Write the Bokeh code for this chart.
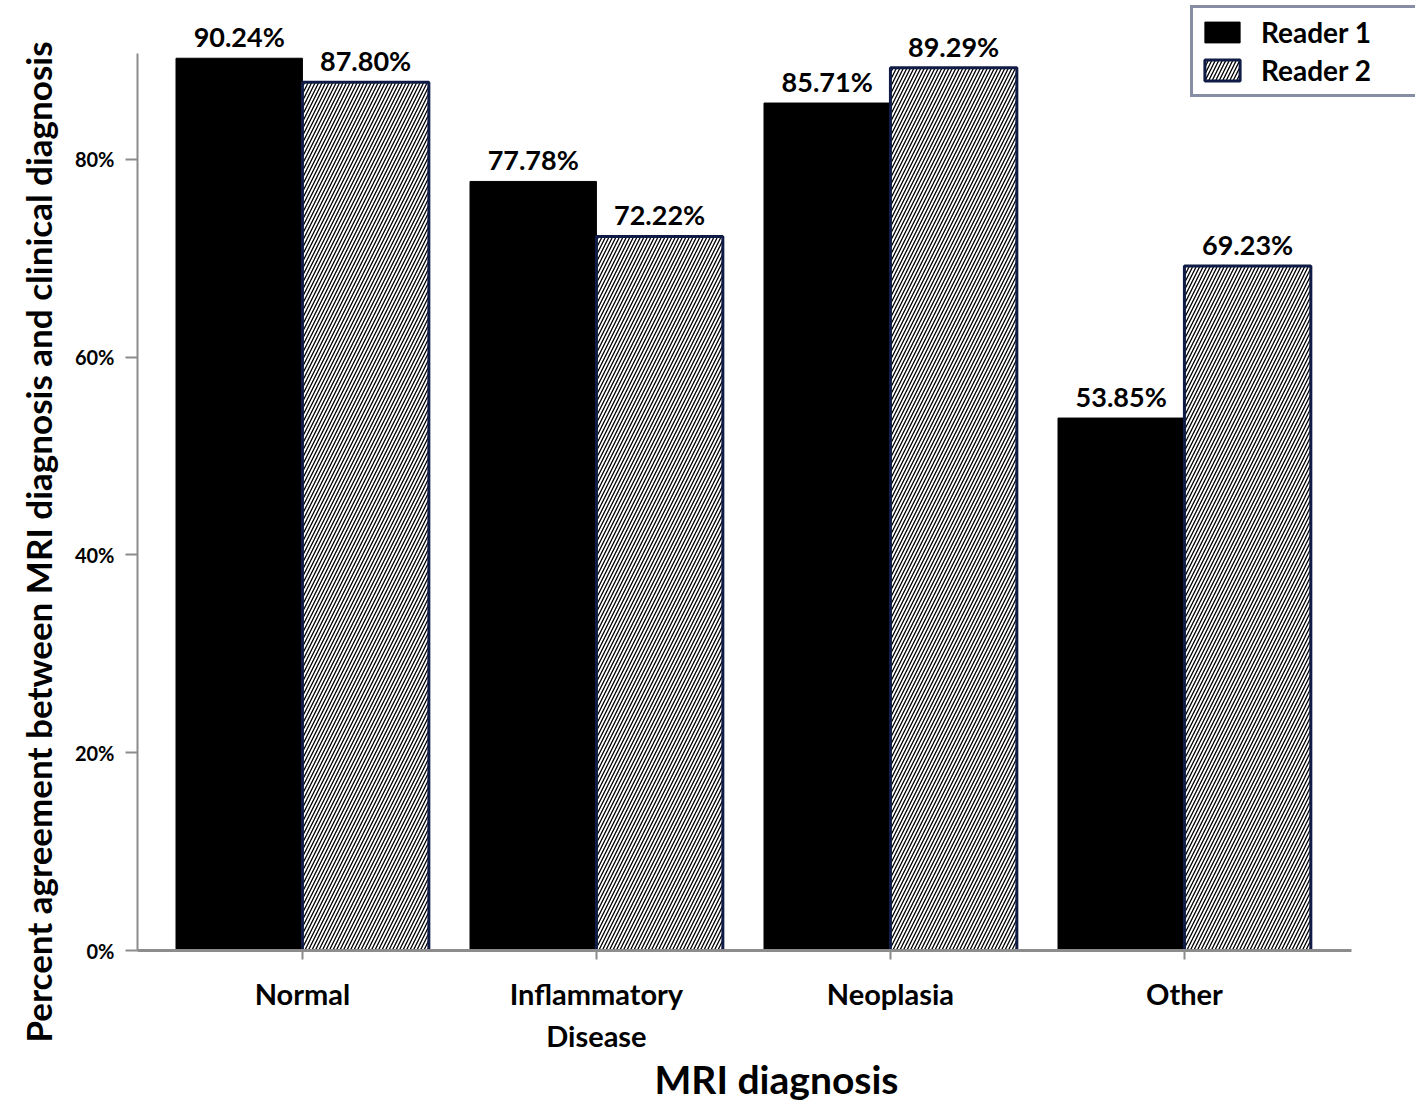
from bokeh.plotting import figure
from bokeh.models import Range1d, FixedTicker, PrintfTickFormatter, Legend, LegendItem, ColumnDataSource, Title
from bokeh.core.properties import value
from bokeh.embed import file_html
from bokeh.resources import INLINE

categories = ["Normal", "Inflammatory\nDisease", "Neoplasia", "Other"]
reader1 = [90.24, 77.78, 85.71, 53.85]
reader2 = [87.80, 72.22, 89.29, 69.23]
y_ticks = [0, 20, 40, 60, 80]
series_names = ["Reader 1", "Reader 2"]
x_title = "MRI diagnosis"
y_title = "Percent agreement between MRI diagnosis and clinical diagnosis"

FONT = "Lato"
NAVY = "#101c45"
GRAY = "#8c8c8c"

xs = list(range(len(categories)))
off = 0.215
bw = 0.43

p = figure(width=1415, height=1107, output_backend="svg", toolbar_location=None,
           x_range=Range1d(-0.561, 3.786), y_range=Range1d(0, 96.08),
           min_border_left=137, min_border_right=0, min_border_top=0,
           min_border_bottom=157)
p.outline_line_color = None
p.grid.visible = False
p.background_fill_color = "white"
p.border_fill_color = "white"

src1 = ColumnDataSource(dict(x=[v - off for v in xs], top=reader1,
                             lab=[f"{v:.2f}%" for v in reader1]))
src2 = ColumnDataSource(dict(x=[v + off for v in xs], top=reader2,
                             lab=[f"{v:.2f}%" for v in reader2]))

r1 = p.vbar(x="x", top="top", bottom=0, width=bw, source=src1,
            fill_color="black", line_color="black", line_width=1)
r2 = p.vbar(x="x", top="top", bottom=0, width=bw, source=src2,
            fill_color="white", line_color=NAVY, line_width=3,
            hatch_pattern="right_diagonal_line", hatch_color="black",
            hatch_scale=7, hatch_weight=1.3)

for s in (src1, src2):
    p.text(x="x", y="top", text="lab", source=s, text_align="center",
           text_baseline="bottom", y_offset=-5,
           text_font=value(FONT), text_font_style="bold",
           text_font_size="27px", text_color="black")

# axes
xa = p.xaxis[0]
xa.ticker = FixedTicker(ticks=xs)
xa.major_label_overrides = {i: c for i, c in zip(xs, categories)}
xa.bounds = (-0.561, 3.568)
xa.axis_line_color = GRAY
xa.axis_line_width = 3
xa.major_tick_line_color = GRAY
xa.major_tick_line_width = 2
xa.major_tick_out = 9
xa.major_tick_in = 0
xa.minor_tick_line_color = None
xa.major_label_text_font = FONT
xa.major_label_text_font_style = "bold"
xa.major_label_text_font_size = "29px"
xa.major_label_text_color = "black"
xa.major_label_standoff = 16
xa.axis_label = x_title
xa.axis_label_text_font = FONT
xa.axis_label_text_font_style = "bold"
xa.axis_label_text_font_size = "39px"
xa.axis_label_text_color = "black"
xa.axis_label_standoff = 0

ya = p.yaxis[0]
ya.ticker = FixedTicker(ticks=y_ticks)
ya.formatter = PrintfTickFormatter(format="%d%%")
ya.bounds = (0, 90.7)
ya.axis_line_color = GRAY
ya.axis_line_width = 2
ya.major_tick_line_color = GRAY
ya.major_tick_line_width = 2
ya.major_tick_out = 12
ya.major_tick_in = 0
ya.minor_tick_line_color = None
ya.major_label_text_font = FONT
ya.major_label_text_font_style = "bold"
ya.major_label_text_font_size = "20px"
ya.major_label_text_color = "black"
ya.major_label_standoff = 11

p.add_layout(Title(text=y_title, align="left", offset=-92, standoff=25,
                   text_font=FONT, text_font_style="bold",
                   text_font_size="35px", text_color="black"), "left")

legend = Legend(items=[LegendItem(label=series_names[0], renderers=[r1]),
                       LegendItem(label=series_names[1], renderers=[r2])],
                location=(1053, 853), orientation="vertical",
                glyph_width=44, glyph_height=26, spacing=4, padding=7,
                margin=0, label_standoff=17, label_width=150,
                label_text_font=FONT, label_text_font_style="bold",
                label_text_font_size="28px", label_text_color="black",
                border_line_color=NAVY, border_line_width=3,
                background_fill_color="white", background_fill_alpha=1.0)
p.add_layout(legend)

open("out.html", "w").write(file_html(p, INLINE))
